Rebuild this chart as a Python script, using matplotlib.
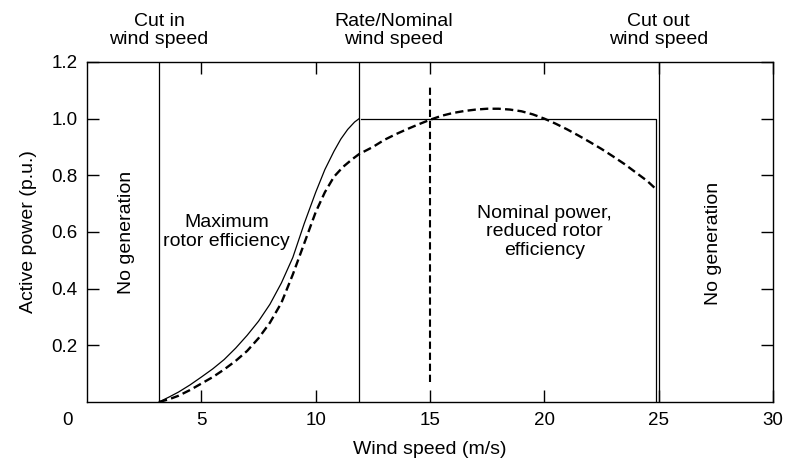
import matplotlib
matplotlib.use("Agg")
import matplotlib.pyplot as plt

plt.rcParams['font.family'] = ['Liberation Sans', 'DejaVu Sans']

# wind speeds of the three operating limits (m/s)
cut_in = 3.15
rated = 11.9
cut_out = 25.0

# ideal power curve (solid)
ideal_x = [3.15, 3.6, 4.0, 4.5, 5.0, 5.5, 6.0, 6.5, 7.0, 7.5, 8.0, 8.5, 9.0, 9.5,
           10.0, 10.4, 10.8, 11.1, 11.4, 11.7, 11.9]
ideal_y = [0.0, 0.018, 0.035, 0.06, 0.088, 0.117, 0.15, 0.19, 0.235, 0.285, 0.345, 0.42, 0.51, 0.63,
           0.74, 0.82, 0.885, 0.928, 0.962, 0.988, 1.0]

# nominal power limit (solid), then drop at cut-out
limit_x = [12.0, 24.9, 24.9]
limit_y = [1.0, 1.0, 0.0]

# real power curve (dashed)
real_x = [3.15, 3.6, 4.0, 4.5, 5.0, 5.5, 6.0, 6.5, 7.0, 7.5, 8.0, 8.5, 9.0, 9.5,
          10.0, 10.4, 10.8, 11.2, 11.6, 11.9, 12.5, 13.0, 13.5, 14.0, 14.5, 15.0,
          15.5, 16.0, 16.5, 17.0, 17.5, 18.0, 18.5, 19.0, 19.5, 20.0, 20.5, 21.0,
          21.5, 22.0, 22.5, 23.0, 23.5, 24.0, 24.5, 24.9]
real_y = [0.0, 0.01, 0.022, 0.042, 0.065, 0.088, 0.115, 0.145, 0.18, 0.225, 0.28, 0.35, 0.45, 0.56,
          0.67, 0.74, 0.795, 0.83, 0.857, 0.875, 0.90, 0.925, 0.945, 0.963, 0.98, 0.996,
          1.01, 1.02, 1.027, 1.032, 1.035, 1.035, 1.032, 1.026, 1.015, 1.0, 0.982, 0.962,
          0.94, 0.917, 0.893, 0.867, 0.84, 0.81, 0.78, 0.75]

# dashed marker at 15 m/s
mark_x = [15.0, 15.0]
mark_y = [0.07, 1.12]

xticks = [5, 10, 15, 20, 25, 30]
yticks = [0.2, 0.4, 0.6, 0.8, 1.0, 1.2]

fig = plt.figure(figsize=(7.86, 4.65), dpi=100)
ax = fig.add_axes([0.1107, 0.1355, 0.8728, 0.7312])

for xv in [cut_in, rated, cut_out]:
    ax.plot([xv, xv], [0, 1.2], color='black', lw=0.9)

ax.plot(ideal_x, ideal_y, color='black', lw=0.9)
ax.plot(limit_x, limit_y, color='black', lw=0.9)
ax.plot(real_x, real_y, color='black', lw=1.7, ls=(0, (3.5, 1.8)))
ax.plot(mark_x, mark_y, color='black', lw=1.5, ls=(0, (3.5, 1.8)))

ax.set_xlim(0, 30)
ax.set_ylim(0, 1.2)
ax.set_xticks(xticks)
ax.set_yticks(yticks)
ax.set_yticklabels(['%.1f' % v for v in yticks])
ax.tick_params(direction='in', length=8.5, width=1, top=True, right=True,
               labelsize=13.5, pad=7)
for s in ax.spines.values():
    s.set_linewidth(1.0)

ax.annotate('0', xy=(0, 0), xytext=(-14, -7), textcoords='offset points',
            ha='center', va='top', fontsize=13.5)

ax.set_xlabel('Wind speed (m/s)', fontsize=14, labelpad=9)
ax.set_ylabel('Active power (p.u.)', fontsize=14, labelpad=10)

# labels above the plot
for xv, txt in [(cut_in, 'Cut in\nwind speed'), (13.4, 'Rate/Nominal\nwind speed'),
                (cut_out, 'Cut out\nwind speed')]:
    ax.annotate(txt, xy=(xv, 1.2), xytext=(0, 10), textcoords='offset points',
                ha='center', va='bottom', fontsize=14, linespacing=1.1,
                annotation_clip=False)

ax.text(1.73, 0.6, 'No generation', rotation=90, ha='center', va='center', fontsize=14)
ax.text(27.4, 0.56, 'No generation', rotation=90, ha='center', va='center', fontsize=14)
ax.text(6.1, 0.6, 'Maximum\nrotor efficiency', ha='center', va='center', fontsize=14,
        linespacing=1.1)
ax.text(20.0, 0.6, 'Nominal power,\nreduced rotor\nefficiency', ha='center', va='center',
        fontsize=14, linespacing=1.1)

fig.savefig('out.png', dpi=100)
